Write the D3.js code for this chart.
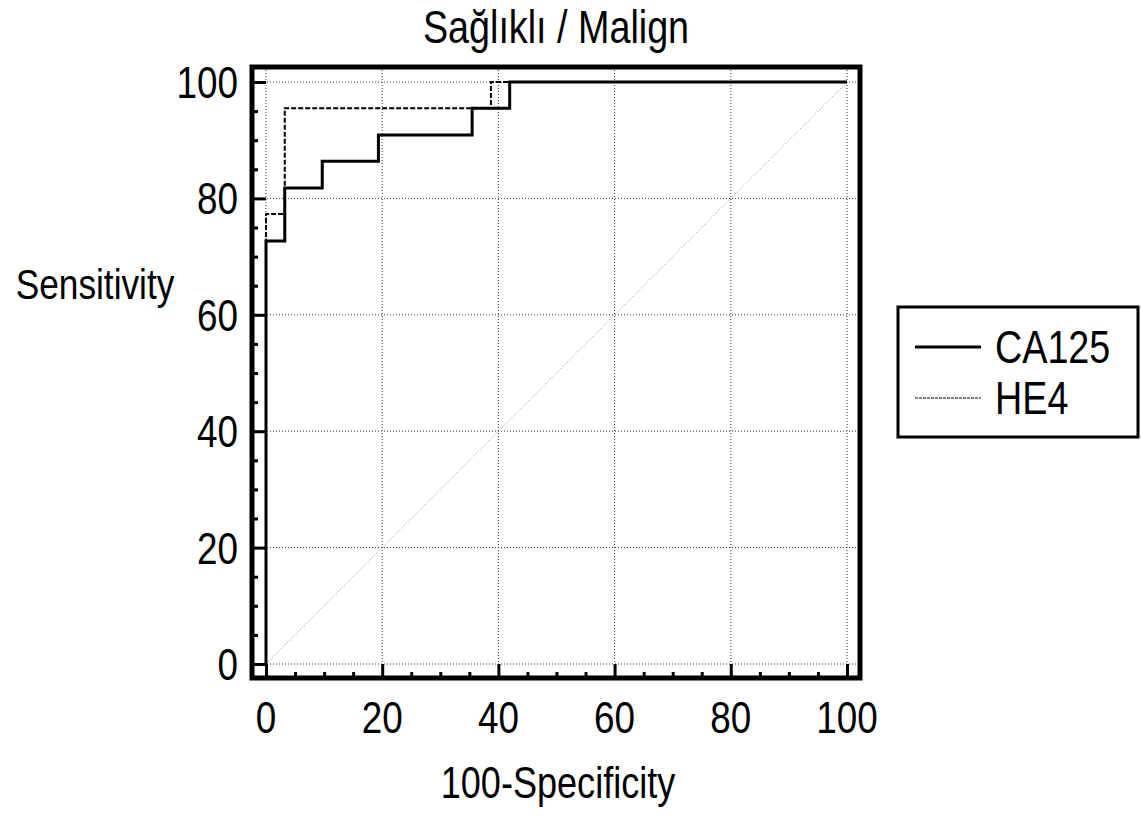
<!DOCTYPE html>
<html>
<head>
<meta charset="utf-8">
<script src="https://cdn.jsdelivr.net/npm/d3@7"></script>
<style>
  body { margin: 0; background: #fff; }
  text { font-family: "Liberation Sans", Arial, sans-serif; fill: #000; }
</style>
</head>
<body>
<svg id="roc" width="1141" height="816"></svg>
<script>
// ROC data (100-Specificity, Sensitivity)
var ca125X = [0, 0, 3.23, 3.23, 9.68, 9.68, 19.35, 19.35, 35.48, 35.48, 41.94, 41.94, 100];
var ca125Y = [0, 72.7, 72.7, 81.8, 81.8, 86.4, 86.4, 90.9, 90.9, 95.5, 95.5, 100, 100];
var he4X = [0, 0, 3.23, 3.23, 38.71, 38.71, 100];
var he4Y = [0, 77.3, 77.3, 95.5, 95.5, 100, 100];
var majorTicks = [0, 20, 40, 60, 80, 100];
var minorTicks = d3.range(0, 101, 5);
var seriesNames = ["CA125", "HE4"];

var svg = d3.select("#roc");
var narrow = 0.82; // the original uses a narrow sans face

// plot area
var x = d3.scaleLinear().domain([0, 100]).range([266, 847]);
var y = d3.scaleLinear().domain([0, 100]).range([664, 82]);
var frame = { left: 252, right: 860, top: 67, bottom: 678 };

function label(g, tx, ty, size, anchor, str) {
    return g.append("text")
        .attr("transform", "translate(" + tx + "," + ty + ") scale(" + narrow + ",1)")
        .attr("text-anchor", anchor)
        .style("font-size", size + "px")
        .text(str);
}

// gridlines
var grid = svg.append("g");
grid.selectAll("line.gx")
    .data(majorTicks)
    .enter()
    .append("line")
    .attr("x1", function (d) { return x(d); })
    .attr("x2", function (d) { return x(d); })
    .attr("y1", frame.top)
    .attr("y2", frame.bottom)
    .style("stroke", "#333")
    .style("stroke-width", 1)
    .style("stroke-dasharray", "1,2");
grid.selectAll("line.gy")
    .data(majorTicks)
    .enter()
    .append("line")
    .attr("y1", function (d) { return y(d); })
    .attr("y2", function (d) { return y(d); })
    .attr("x1", frame.left)
    .attr("x2", frame.right)
    .style("stroke", "#333")
    .style("stroke-width", 1)
    .style("stroke-dasharray", "1,2");

// diagonal reference
svg.append("line")
    .attr("x1", x(0)).attr("y1", y(0))
    .attr("x2", x(100)).attr("y2", y(100))
    .style("stroke", "#888")
    .style("stroke-width", 1)
    .style("stroke-dasharray", "1,2");

// ticks (pointing inward)
var yAxis = d3.axisRight(y)
    .tickValues(minorTicks)
    .tickSize(0)
    .tickFormat("");
svg.append("g")
    .attr("transform", "translate(" + frame.left + ",0)")
    .call(yAxis)
    .call(function (g) { g.select(".domain").remove(); })
    .selectAll(".tick line")
    .attr("x2", function (d) { return d % 20 === 0 ? x(0) - frame.left : 6; })
    .style("stroke", "#000")
    .style("stroke-width", 3);

var xAxis = d3.axisTop(x)
    .tickValues(minorTicks)
    .tickSize(0)
    .tickFormat("");
svg.append("g")
    .attr("transform", "translate(0," + frame.bottom + ")")
    .call(xAxis)
    .call(function (g) { g.select(".domain").remove(); })
    .selectAll(".tick line")
    .attr("y2", function (d) { return d % 20 === 0 ? -(frame.bottom - y(0)) : -6; })
    .style("stroke", "#000")
    .style("stroke-width", 3);

// tick labels
var yLabels = svg.append("g");
majorTicks.forEach(function (d) {
    label(yLabels, 238, y(d) + 16, 45, "end", d);
});
var xLabels = svg.append("g");
majorTicks.forEach(function (d) {
    label(xLabels, x(d), 733, 45, "middle", d);
});

// curves
var line = d3.line()
    .x(function (d) { return x(d[0]); })
    .y(function (d) { return y(d[1]); });

svg.append("path")
    .datum(he4X.map(function (v, i) { return [v, he4Y[i]]; }))
    .attr("d", line)
    .style("fill", "none")
    .style("stroke", "#000")
    .style("stroke-width", 2)
    .style("stroke-dasharray", "5,2");

svg.append("path")
    .datum(ca125X.map(function (v, i) { return [v, ca125Y[i]]; }))
    .attr("d", line)
    .style("fill", "none")
    .style("stroke", "#000")
    .style("stroke-width", 3);

// frame
svg.append("rect")
    .attr("x", frame.left)
    .attr("y", frame.top)
    .attr("width", frame.right - frame.left)
    .attr("height", frame.bottom - frame.top)
    .style("fill", "none")
    .style("stroke", "#000")
    .style("stroke-width", 5);

// titles
label(svg, 556, 43, 46, "middle", "Sağlıklı / Malign");
label(svg, 95, 299, 43, "middle", "Sensitivity");
label(svg, 558, 798, 44, "middle", "100-Specificity");

// legend
var legend = svg.append("g");
legend.append("rect")
    .attr("x", 898)
    .attr("y", 307)
    .attr("width", 240)
    .attr("height", 130)
    .style("fill", "#fff")
    .style("stroke", "#000")
    .style("stroke-width", 3);

var legendY = [347, 398];
var legendDash = ["none", "3,1"];
var legendWidth = [3, 1];
seriesNames.forEach(function (name, i) {
    legend.append("line")
        .attr("x1", 915).attr("x2", 981)
        .attr("y1", legendY[i]).attr("y2", legendY[i])
        .style("stroke", "#000")
        .style("stroke-width", legendWidth[i])
        .style("stroke-dasharray", legendDash[i]);
    label(legend, 995, legendY[i] + 16, 46, "start", name);
});
</script>
</body>
</html>
